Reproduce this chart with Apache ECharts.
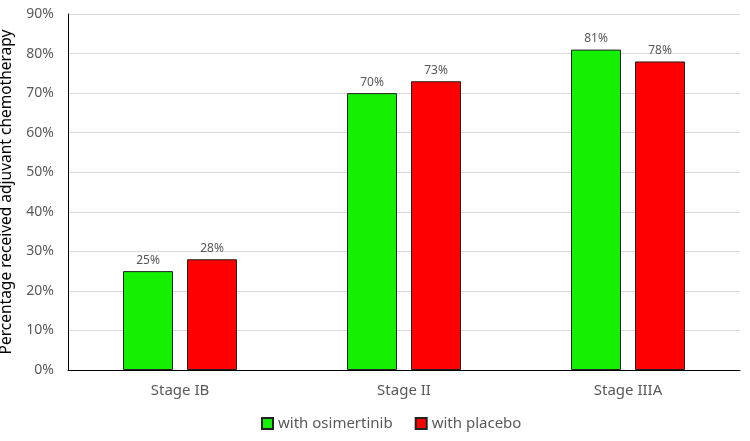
<!DOCTYPE html>
<html><head><meta charset="utf-8">
<script src="https://cdn.jsdelivr.net/npm/echarts@6/dist/echarts.min.js"></script>
<style>html,body{margin:0;padding:0;background:#fff}#c{width:750px;height:441px}</style>
</head><body><div id="c"></div>
<script>
const categories = ['Stage IB', 'Stage II', 'Stage IIIA'];
const osimertinib = [25, 70, 81];
const placebo = [28, 73, 78];
const yTicks = [0, 10, 20, 30, 40, 50, 60, 70, 80, 90];

const font = '"Noto Sans", "Open Sans", sans-serif';
const chart = echarts.init(document.getElementById('c'));
chart.setOption({
  animation: false,
  grid: { left: 68, right: 10, top: 14, bottom: 71, containLabel: false, outerBoundsMode: 'none' },
  legend: {
    top: 411, left: 256, itemWidth: 11, itemHeight: 11, itemGap: 22,
    icon: 'rect',
    textStyle: { color: '#595959', fontSize: 15, fontFamily: font },
    data: ['with osimertinib', 'with placebo']
  },
  xAxis: {
    type: 'category', data: categories,
    axisLine: { lineStyle: { color: '#000', width: 1 } },
    axisTick: { show: false },
    axisLabel: { color: '#595959', fontSize: 15, fontFamily: font, margin: 13 }
  },
  yAxis: {
    type: 'value', min: 0, max: 90, interval: 10,
    name: 'Percentage received adjuvant chemotherapy',
    nameLocation: 'middle', nameGap: 53,
    nameTextStyle: { color: '#000', fontSize: 15.5, fontFamily: font },
    axisLine: { show: true, lineStyle: { color: '#000', width: 1 } },
    axisTick: { show: false },
    splitLine: { lineStyle: { color: '#d9d9d9' } },
    axisLabel: { color: '#595959', fontSize: 14, fontFamily: font, margin: 14, formatter: v => yTicks.includes(v) ? v + '%' : '' }
  },
  series: [
    {
      name: 'with osimertinib', type: 'bar', data: osimertinib,
      barWidth: 50, barGap: '28%',
      itemStyle: { color: '#14f000', borderColor: '#222', borderWidth: 1 },
      label: { show: true, position: 'top', formatter: '{c}%', color: '#595959', fontSize: 12, fontFamily: font }
    },
    {
      name: 'with placebo', type: 'bar', data: placebo,
      barWidth: 50,
      itemStyle: { color: '#ff0000', borderColor: '#222', borderWidth: 1 },
      label: { show: true, position: 'top', formatter: '{c}%', color: '#595959', fontSize: 12, fontFamily: font }
    }
  ]
});
</script></body></html>
